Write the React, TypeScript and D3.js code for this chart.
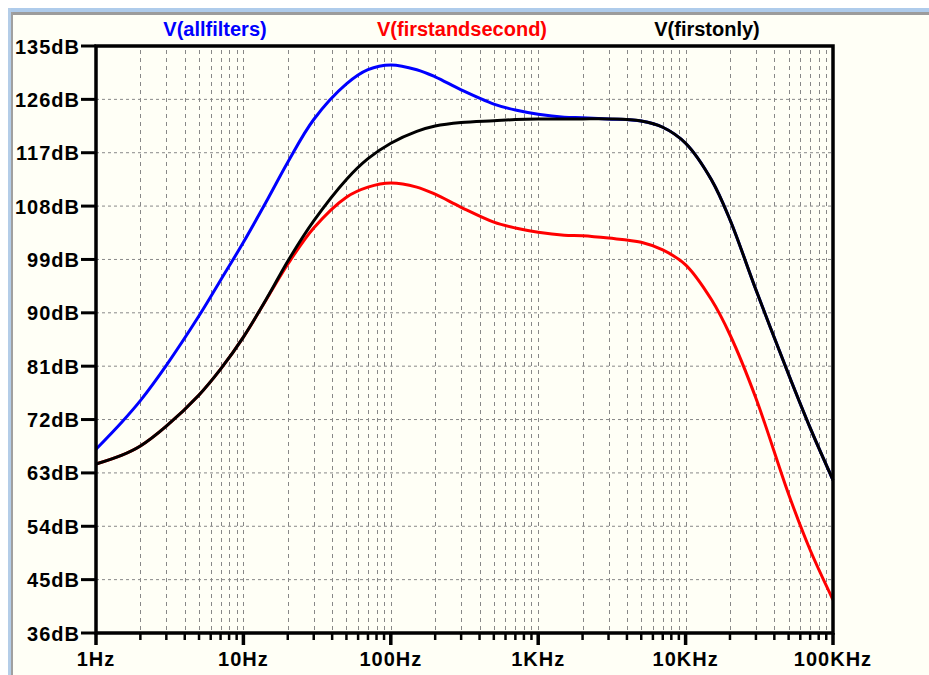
import React from "react";
import * as d3 from "d3";

const freqs = [1, 1.5, 2, 3, 5, 7, 10, 15, 20, 30, 50, 70, 100, 150, 200, 300, 500, 700, 1000, 1500, 2000, 3000, 5000, 7000, 10000, 15000, 20000, 30000, 50000, 70000, 100000];

const allfilters = [67.0, 71.6, 75.2, 81.15, 89.5, 95.5, 101.9, 109.7, 115.4, 122.6, 128.6, 131.0, 131.8, 131.0, 129.8, 127.6, 125.2, 124.2, 123.5, 123.0, 122.9, 122.7, 122.35, 121.3, 118.6, 112.4, 105.7, 93.9, 79.6, 70.6, 61.8];
const firstonly = [64.5, 66.0, 67.55, 70.9, 76.15, 80.5, 85.9, 93.2, 98.7, 105.5, 112.5, 116.0, 118.6, 120.6, 121.5, 122.1, 122.4, 122.6, 122.7, 122.7, 122.7, 122.7, 122.35, 121.3, 118.6, 112.4, 105.7, 93.9, 79.6, 70.6, 61.8];
const firstandsecond = [64.5, 66.0, 67.55, 70.9, 76.15, 80.5, 85.9, 93.1, 98.2, 104.3, 109.5, 111.2, 111.9, 111.2, 110.0, 107.8, 105.3, 104.3, 103.6, 103.1, 103.0, 102.6, 101.9, 100.6, 98.1, 92.2, 86.3, 75.6, 59.4, 50.0, 41.6];

const dbTicks = [135, 126, 117, 108, 99, 90, 81, 72, 63, 54, 45, 36];
const decadeTicks = [1, 10, 100, 1000, 10000, 100000];
const decadeLabels = ["1Hz", "10Hz", "100Hz", "1KHz", "10KHz", "100KHz"];

const seriesNames = ["V(allfilters)", "V(firstandsecond)", "V(firstonly)"];
const seriesColors = ["#0000ff", "#ff0000", "#000000"];
const legendX = [215, 462, 707];

export default function App() {
  const W = 929, H = 675;
  const x = d3.scaleLog().domain([1, 100000]).range([96, 833]);
  const y = d3.scaleLinear().domain([36, 135]).range([633, 46]);
  const line = d3
    .line<[number, number]>()
    .x((d) => x(d[0]))
    .y((d) => y(d[1]))
    .curve(d3.curveCatmullRom.alpha(0.5));

  const minor: number[] = [];
  for (let dec = 1; dec < 100000; dec *= 10) {
    for (let m = 1; m <= 9; m++) {
      const f = dec * m;
      if (f > 1 && f < 100000) minor.push(f);
    }
  }

  const series = [allfilters, firstandsecond, firstonly];
  const font = "'Liberation Sans', Arial, sans-serif";

  return (
    <svg width={W} height={H} style={{ position: "absolute", left: 0, top: 0 }}>
      <rect x={0} y={0} width={W} height={H} fill="#ffffff" />
      <rect x={8} y={8} width={W - 8} height={H - 8} fill="#fffff6" />
      <rect x={8} y={8} width={W - 8} height={4} fill="#aecbeb" />
      <rect x={11} y={12} width={W - 11} height={3} fill="#9c9c9c" />
      <rect x={8} y={8} width={3} height={H - 8} fill="#b4cde8" />
      <rect x={11} y={12} width={2} height={H - 12} fill="#a0a0a0" />

      {/* grid */}
      {dbTicks.slice(1, -1).map((v) => (
        <line key={"h" + v} x1={x(1)} x2={x(100000)} y1={y(v)} y2={y(v)} stroke="#888" strokeWidth={1} strokeDasharray="3,3" />
      ))}
      {minor.map((f) => (
        <line key={"v" + f} x1={Math.round(x(f)) + 0.5} x2={Math.round(x(f)) + 0.5} y1={y(135) + 4} y2={y(36)} stroke="#888" strokeWidth={1} strokeDasharray="4,4" />
      ))}

      {/* curves */}
      {[0, 1, 2].map((i) => (
        <path
          key={"s" + i}
          d={line(freqs.map((f, j) => [f, series[i][j]]) as [number, number][]) || ""}
          fill="none"
          stroke={seriesColors[i]}
          strokeWidth={3}
          strokeLinejoin="round"
        />
      ))}

      {/* frame */}
      <rect x={x(1)} y={y(135)} width={x(100000) - x(1)} height={y(36) - y(135)} fill="none" stroke="#000" strokeWidth={3.5} />

      {/* y ticks */}
      {dbTicks.map((v) => (
        <g key={"yt" + v}>
          <line x1={81} x2={x(1)} y1={y(v)} y2={y(v)} stroke="#000" strokeWidth={3} />
          <text x={80} y={y(v) + 7.5} textAnchor="end" fontFamily={font} fontWeight="bold" fontSize={20} letterSpacing={1} fill="#000">
            {v}dB
          </text>
        </g>
      ))}

      {/* x ticks */}
      {minor.map((f) => (
        <line key={"xm" + f} x1={x(f)} x2={x(f)} y1={y(36)} y2={y(36) + 7} stroke="#000" strokeWidth={2.5} />
      ))}
      {decadeTicks.map((f, i) => (
        <g key={"xt" + f}>
          <line x1={x(f)} x2={x(f)} y1={y(36)} y2={y(36) + 12} stroke="#000" strokeWidth={3.5} />
          <text x={x(f)} y={666} textAnchor="middle" fontFamily={font} fontWeight="bold" fontSize={20} letterSpacing={1} fill="#000">
            {decadeLabels[i]}
          </text>
        </g>
      ))}

      {/* legend */}
      {seriesNames.map((n, i) => (
        <text key={n} x={legendX[i]} y={36} textAnchor="middle" fontFamily={font} fontWeight="bold" fontSize={20} fill={seriesColors[i]}>
          {n}
        </text>
      ))}
    </svg>
  );
}
